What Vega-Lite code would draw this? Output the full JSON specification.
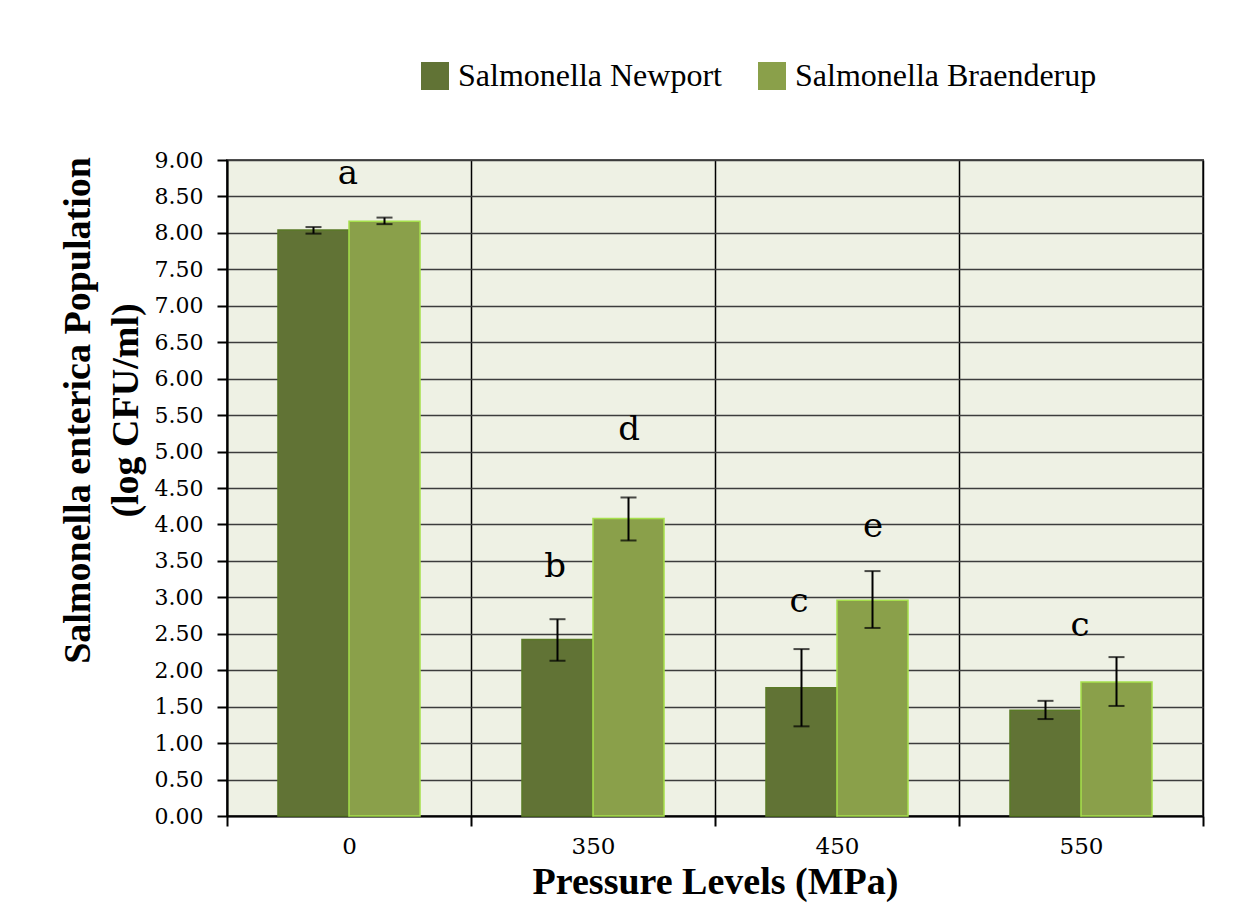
{
  "$schema": "https://vega.github.io/schema/vega-lite/v6.json",
  "width": 976,
  "height": 656,
  "autosize": "none",
  "padding": {"left": 227, "top": 160, "right": 50, "bottom": 92},
  "background": "white",
  "config": {
    "view": {"fill": "#eef1e4", "stroke": "#555555", "strokeWidth": 2},
    "font": "Liberation Serif",
    "axisY": {
      "labelFont": "DejaVu Serif",
      "labelFontSize": 22,
      "labelColor": "black",
      "labelPadding": 14,
      "labelOverlap": false,
      "tickSize": 10,
      "tickColor": "black",
      "tickWidth": 2,
      "domainColor": "black",
      "domainWidth": 2,
      "grid": true,
      "gridColor": "#3c3c3c",
      "gridWidth": 1.5,
      "titleFont": "Liberation Serif",
      "titleFontSize": 38,
      "titleFontWeight": "bold",
      "titleColor": "black",
      "titleLineHeight": 48,
      "titlePadding": 9,
      "titleY": 250
    }
  },
  "datasets": {
    "bars": [
      {"pressure": "0", "series": "Salmonella Newport", "value": 8.04, "lo": 7.99, "hi": 8.08},
      {"pressure": "0", "series": "Salmonella Braenderup", "value": 8.16, "lo": 8.12, "hi": 8.21},
      {"pressure": "350", "series": "Salmonella Newport", "value": 2.42, "lo": 2.13, "hi": 2.70},
      {"pressure": "350", "series": "Salmonella Braenderup", "value": 4.08, "lo": 3.78, "hi": 4.37},
      {"pressure": "450", "series": "Salmonella Newport", "value": 1.76, "lo": 1.23, "hi": 2.29},
      {"pressure": "450", "series": "Salmonella Braenderup", "value": 2.96, "lo": 2.58, "hi": 3.36},
      {"pressure": "550", "series": "Salmonella Newport", "value": 1.45, "lo": 1.33, "hi": 1.58},
      {"pressure": "550", "series": "Salmonella Braenderup", "value": 1.84, "lo": 1.51, "hi": 2.18}
    ],
    "letters": [
      {"pressure": "0", "over": "both", "letter": "a", "at": 8.81},
      {"pressure": "350", "over": "Salmonella Newport", "letter": "b", "at": 3.42},
      {"pressure": "350", "over": "Salmonella Braenderup", "letter": "d", "at": 5.30},
      {"pressure": "450", "over": "Salmonella Newport", "letter": "c", "at": 2.93},
      {"pressure": "450", "over": "Salmonella Braenderup", "letter": "e", "at": 3.97},
      {"pressure": "550", "over": "both", "letter": "c", "at": 2.60}
    ]
  },
  "encoding": {
    "x": {
      "field": "pressure",
      "type": "nominal",
      "sort": ["0", "350", "450", "550"],
      "scale": {"paddingInner": 0, "paddingOuter": 0},
      "axis": {
        "title": "Pressure Levels (MPa)",
        "titleFont": "Liberation Serif",
        "titleFontSize": 38,
        "titleFontWeight": "bold",
        "titleColor": "black",
        "titlePadding": 5,
        "labelAngle": 0,
        "labelFont": "DejaVu Serif",
        "labelFontSize": 23,
        "labelColor": "black",
        "labelPadding": 9,
        "tickBand": "extent",
        "tickSize": 10,
        "tickColor": "black",
        "tickWidth": 2,
        "domainColor": "black",
        "domainWidth": 2,
        "grid": true,
        "gridColor": "black",
        "gridWidth": 1.5
      }
    }
  },
  "layer": [
    {
      "data": {"name": "bars"},
      "mark": {"type": "bar", "strokeWidth": 1.5},
      "encoding": {
        "xOffset": {"field": "series", "type": "nominal", "sort": ["Salmonella Newport", "Salmonella Braenderup"], "scale": {"domain": ["Salmonella Newport", "Salmonella Braenderup"], "paddingInner": 0, "paddingOuter": 0.718}},
        "y": {
          "field": "value",
          "type": "quantitative",
          "scale": {"domain": [0, 9], "nice": false},
          "axis": {
            "values": [0, 0.5, 1, 1.5, 2, 2.5, 3, 3.5, 4, 4.5, 5, 5.5, 6, 6.5, 7, 7.5, 8, 8.5, 9],
            "format": ".2f",
            "title": ["Salmonella enterica Population", "(log CFU/ml)"]
          }
        },
        "color": {
          "field": "series",
          "type": "nominal",
          "sort": ["Salmonella Newport", "Salmonella Braenderup"],
          "scale": {"domain": ["Salmonella Newport", "Salmonella Braenderup"], "range": ["#617335", "#8aa04a"]},
          "legend": {
            "title": null,
            "orient": "none",
            "direction": "horizontal",
            "legendX": 192,
            "legendY": -100,
            "symbolType": "square",
            "symbolSize": 784,
            "symbolStrokeWidth": 0,
            "symbolOpacity": 1,
            "labelFont": "Liberation Serif",
            "labelFontSize": 32,
            "labelColor": "black",
            "labelOffset": 7,
            "columnPadding": 34,
            "labelLimit": 400
          }
        },
        "stroke": {
          "field": "series",
          "type": "nominal",
          "scale": {"domain": ["Salmonella Newport", "Salmonella Braenderup"], "range": ["#5a7a26", "#a6e04c"]},
          "legend": null
        }
      }
    },
    {
      "data": {"name": "bars"},
      "mark": {"type": "rule", "color": "black", "strokeWidth": 2},
      "encoding": {
        "xOffset": {"field": "series", "type": "nominal", "scale": {"domain": ["Salmonella Newport", "Salmonella Braenderup"], "paddingInner": 0, "paddingOuter": 0.718}},
        "y": {"field": "lo", "type": "quantitative", "axis": {"values": [0, 0.5, 1, 1.5, 2, 2.5, 3, 3.5, 4, 4.5, 5, 5.5, 6, 6.5, 7, 7.5, 8, 8.5, 9], "format": ".2f", "title": ["Salmonella enterica Population", "(log CFU/ml)"]}},
        "y2": {"field": "hi"}
      }
    },
    {
      "data": {"name": "bars"},
      "mark": {"type": "tick", "color": "black", "size": 16, "thickness": 2, "orient": "horizontal"},
      "encoding": {
        "xOffset": {"field": "series", "type": "nominal", "scale": {"domain": ["Salmonella Newport", "Salmonella Braenderup"], "paddingInner": 0, "paddingOuter": 0.718}},
        "y": {"field": "lo", "type": "quantitative", "axis": {"values": [0, 0.5, 1, 1.5, 2, 2.5, 3, 3.5, 4, 4.5, 5, 5.5, 6, 6.5, 7, 7.5, 8, 8.5, 9], "format": ".2f", "title": ["Salmonella enterica Population", "(log CFU/ml)"]}}
      }
    },
    {
      "data": {"name": "bars"},
      "mark": {"type": "tick", "color": "black", "size": 16, "thickness": 2, "orient": "horizontal"},
      "encoding": {
        "xOffset": {"field": "series", "type": "nominal", "scale": {"domain": ["Salmonella Newport", "Salmonella Braenderup"], "paddingInner": 0, "paddingOuter": 0.718}},
        "y": {"field": "hi", "type": "quantitative", "axis": {"values": [0, 0.5, 1, 1.5, 2, 2.5, 3, 3.5, 4, 4.5, 5, 5.5, 6, 6.5, 7, 7.5, 8, 8.5, 9], "format": ".2f", "title": ["Salmonella enterica Population", "(log CFU/ml)"]}}
      }
    },
    {
      "data": {"name": "letters"},
      "mark": {"type": "text", "font": "DejaVu Serif", "fontSize": 34, "color": "black", "baseline": "middle", "align": "center"},
      "encoding": {
        "xOffset": {"field": "over", "type": "nominal", "scale": {"type": "point", "domain": ["Salmonella Newport", "both", "Salmonella Braenderup"], "padding": 0, "range": [84, 158]}},
        "y": {"field": "at", "type": "quantitative", "axis": {"values": [0, 0.5, 1, 1.5, 2, 2.5, 3, 3.5, 4, 4.5, 5, 5.5, 6, 6.5, 7, 7.5, 8, 8.5, 9], "format": ".2f", "title": ["Salmonella enterica Population", "(log CFU/ml)"]}},
        "text": {"field": "letter"}
      }
    }
  ],
  "resolve": {"scale": {"xOffset": "independent"}}
}
